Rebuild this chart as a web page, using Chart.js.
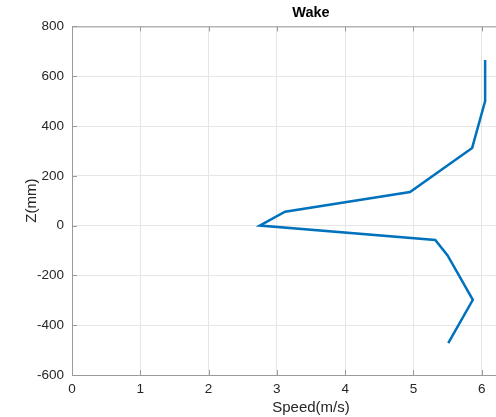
<!DOCTYPE html>
<html>
<head>
<meta charset="utf-8">
<script src="https://cdn.jsdelivr.net/npm/chart.js@4.4.1/dist/chart.umd.min.js"></script>
<style>
  html, body { margin: 0; padding: 0; background: #fff; overflow: hidden; }
  #wrap { width: 560px; height: 417px; }
</style>
</head>
<body>
<div id="wrap"><canvas id="wakeChart" width="560" height="417"></canvas></div>
<script>
// Wake profile data
const speed = [6.05, 6.05, 5.86, 4.95, 3.12, 2.75, 5.32, 5.50, 5.87, 5.51];
const zPos = [665, 500, 312, 135, 56, 0, -58, -120, -298, -472];
const xTicks = [0, 1, 2, 3, 4, 5, 6, 7];
const yTicks = [-600, -400, -200, 0, 200, 400, 600, 800];

const axisColor = '#9a9a9a';
const textColor = '#262626';

// Build point list for Chart.js
const points = speed.map((s, i) => ({ x: s, y: zPos[i] }));

// MATLAB style box + inward ticks
const boxPlugin = {
    id: 'box',
    afterDraw(chart) {
        const ctx = chart.ctx;
        const area = chart.chartArea;
        const xs = chart.scales.x;
        const ys = chart.scales.y;
        ctx.save();
        ctx.strokeStyle = axisColor;
        ctx.lineWidth = 1;
        ctx.beginPath();
        ctx.moveTo(area.left, area.top + 0.5);
        ctx.lineTo(area.right, area.top + 0.5);
        ctx.moveTo(area.right - 0.5, area.top);
        ctx.lineTo(area.right - 0.5, area.bottom);
        xTicks.forEach(v => {
            const px = Math.round(xs.getPixelForValue(v)) + 0.5;
            ctx.moveTo(px, area.bottom);
            ctx.lineTo(px, area.bottom - 5);
            ctx.moveTo(px, area.top);
            ctx.lineTo(px, area.top + 5);
        });
        yTicks.forEach(v => {
            const py = Math.round(ys.getPixelForValue(v)) + 0.5;
            ctx.moveTo(area.left, py);
            ctx.lineTo(area.left + 5, py);
        });
        ctx.stroke();
        ctx.restore();
    }
};

new Chart(document.getElementById('wakeChart'), {
    type: 'line',
    data: {
        datasets: [{
            data: points,
            borderColor: '#0072BD',
            borderWidth: 2.5,
            pointRadius: 0,
            fill: false,
            tension: 0
        }]
    },
    options: {
        responsive: false,
        animation: false,
        layout: { padding: { top: 0, right: 10, left: 22, bottom: 0 } },
        plugins: {
            legend: { display: false },
            tooltip: { enabled: false },
            title: {
                display: true,
                text: 'Wake',
                fullSize: false,
                color: '#000',
                font: { family: 'Liberation Sans', size: 14.5, weight: 'bold' },
                padding: { top: 4, bottom: 5 }
            }
        },
        scales: {
            x: {
                type: 'linear',
                min: 0,
                max: 7,
                afterBuildTicks: s => { s.ticks = xTicks.map(v => ({ value: v })); },
                afterFit: s => { s.height = 42; },
                grid: { color: '#e6e6e6', drawTicks: false },
                border: { color: axisColor },
                ticks: {
                    color: textColor,
                    padding: 6,
                    font: { family: 'Liberation Sans', size: 13.5 }
                },
                title: {
                    display: true,
                    text: 'Speed(m/s)',
                    color: textColor,
                    padding: { top: 0, bottom: 0 },
                    font: { family: 'Liberation Sans', size: 15 }
                }
            },
            y: {
                type: 'linear',
                min: -600,
                max: 800,
                afterBuildTicks: s => { s.ticks = yTicks.map(v => ({ value: v })); },
                afterFit: s => { s.width = 50; },
                grid: { color: '#e6e6e6', drawTicks: false },
                border: { color: axisColor },
                ticks: {
                    color: textColor,
                    padding: 8,
                    font: { family: 'Liberation Sans', size: 13.5 }
                },
                title: {
                    display: true,
                    text: 'Z(mm)',
                    color: textColor,
                    padding: { top: 1, bottom: 4 },
                    font: { family: 'Liberation Sans', size: 15 }
                }
            }
        }
    },
    plugins: [boxPlugin]
});
</script>
</body>
</html>
